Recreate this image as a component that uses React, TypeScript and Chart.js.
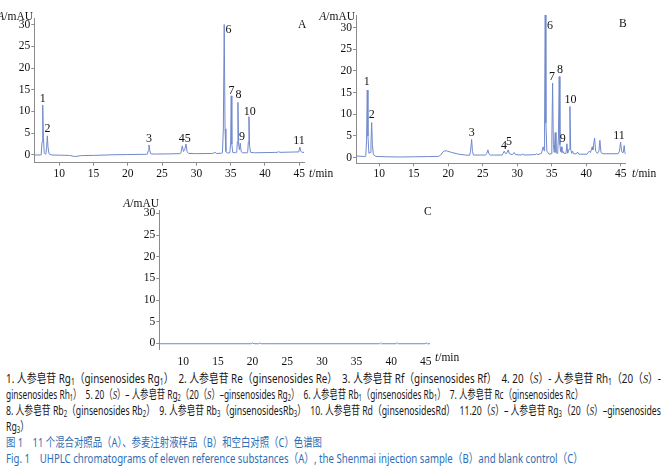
import React, { useEffect, useLayoutEffect, useRef } from 'react';
import { Chart, registerables } from 'chart.js';

Chart.register(...registerables);

// ---------- DATA ----------
const yTickValues = [0, 5, 10, 15, 20, 25, 30];
const xTickValues = [10, 15, 20, 25, 30, 35, 40, 45];

// Panel A: mixed reference substances
const timeA = [
  6.35, 7.3, 7.35, 7.48, 7.58, 7.68, 7.8, 7.95,
  8.05, 8.15, 8.25, 8.35, 8.5, 8.8,
  10, 11.5, 12.2, 12.6, 13.2, 15, 18, 20, 22.7,
  22.85, 22.98, 23.08, 23.2, 23.35, 24, 26, 27.6,
  27.75, 27.94, 28.12, 28.3, 28.48, 28.65, 28.85, 30, 32.4, 32.7, 32.95, 33.7,
  33.8, 33.93, 34.06, 34.18, 34.3, 34.5,
  34.88, 35.0, 35.08, 35.17, 35.3, 35.7,
  35.88, 35.98, 36.06, 36.16, 36.28, 36.4, 36.52, 36.7, 37.4,
  37.48, 37.58, 37.67, 37.77, 37.9, 38.5, 41.8, 42.0, 42.2, 44.85,
  44.97, 45.1, 45.23, 45.4, 45.7,
];
const absA = [
  0, 0, 0, 3.0, 11.5, 4.0, 0.5, 0.2,
  0.3, 1.8, 4.4, 1.8, 0.3, 0.0,
  -0.05, -0.1, -0.35, -0.3, -0.15, -0.1, 0.05, 0.1, 0.15,
  0.2, 1.0, 2.3, 1.0, 0.25, 0.2, 0.25, 0.3,
  0.5, 2.1, 0.8, 1.2, 2.5, 0.7, 0.35, 0.3, 0.35, 0.6, 0.35, 0.4,
  0.5, 6, 30, 6, 0.8, 0.45,
  0.5, 3, 13.6, 2.5, 0.6, 0.5,
  0.6, 3, 12.1, 2.5, 1.2, 2.7, 0.9, 0.5, 0.5,
  0.6, 3, 8.8, 2, 0.6, 0.5, 0.6, 0.75, 0.6, 0.7,
  1.0, 1.8, 0.9, 0.6, 0.6,
];
const peakLabelsA = ['1', '2', '3', '45', '6', '7', '8', '9', '10', '11'];
const peakLabelTimeA = [7.58, 8.28, 23.08, 28.3, 34.7, 35.12, 36.16, 36.66, 37.8, 44.98];
const peakLabelAbsA = [13.0, 5.9, 3.6, 3.7, 28.8, 14.7, 13.8, 4.2, 10.0, 3.3];

// Panel B: Shenmai injection sample
const timeB = [
  6.63, 7.5, 8.0,
  8.05, 8.16, 8.26, 8.36, 8.5,
  8.7, 8.8, 8.9, 9.0, 9.15, 9.5, 11, 13, 15, 17, 18.6,
  18.9, 19.2, 19.5, 19.9, 20.5, 21.5, 22.5, 23.1,
  23.22, 23.38, 23.5, 23.65, 25.4, 25.58, 25.74, 25.88, 26.1, 27.8,
  27.95, 28.1, 28.3, 28.5, 28.68, 28.85, 29.3, 29.55, 29.75, 30.6, 30.77, 30.92, 32.6, 32.8, 33.0, 33.5, 33.75, 33.88,
  33.95, 34.04, 34.14, 34.28, 34.6, 34.9,
  35.0, 35.11, 35.22, 35.35, 35.49, 35.6, 35.75, 35.85,
  35.96, 36.07, 36.17, 36.26, 36.36, 36.47, 36.6, 36.75, 37.05, 37.18, 37.3,
  37.5, 37.62, 37.73, 37.87, 38.0, 38.15, 38.55, 38.73, 38.9, 40.1, 40.41, 40.6, 40.85, 40.95, 41.19, 41.35, 41.6, 41.82, 41.96, 42.12, 42.4, 44.6,
  44.8, 44.96, 45.1, 45.2, 45.35, 45.48, 45.6, 45.7,
];
const absB = [
  0.4, 0.3, 0.3,
  0.5, 4, 15.6, 5, 1.0,
  1.2, 3.5, 8.1, 3, 0.7, 0.3, 0.2, 0.15, 0.2, 0.25, 0.3,
  0.6, 1.3, 1.6, 1.5, 1.2, 0.8, 0.6, 0.55,
  1.5, 4.2, 1.4, 0.6, 0.6, 1.0, 1.8, 0.9, 0.6, 0.6,
  1.0, 1.5, 0.9, 1.1, 1.8, 0.9, 0.7, 1.2, 0.7, 0.6, 0.9, 0.6, 0.7, 0.9, 0.7, 1.0, 2.5, 1.6,
  8, 36, 8, 1.5, 0.8, 0.9,
  4, 17.2, 3, 1.2, 5.8, 1.2, 1.0, 1.5,
  5, 18.7, 3, 1.4, 2.5, 1.2, 1.5, 1.0, 1.0, 3.2, 1.0,
  2, 11.8, 2.0, 1.0, 1.5, 0.9, 0.9, 1.3, 0.8, 0.8, 1.5, 1.2, 2.5, 1.8, 4.5, 1.5, 1.0, 1.5, 4.0, 1.2, 0.9, 0.9,
  1.5, 3.6, 1.6, 1.2, 1.2, 2.8, 1.0, 0.9,
];
const peakLabelsB = ['1', '2', '3', '4', '5', '6', '7', '8', '9', '10', '11'];
const peakLabelTimeB = [8.18, 8.9, 23.38, 28.08, 28.8, 34.72, 35.02, 36.17, 36.58, 37.7, 44.74];
const peakLabelAbsB = [17.5, 9.9, 5.8, 2.7, 3.6, 30.5, 18.7, 20.2, 4.4, 13.4, 5.0];

// Panel C: blank control
const timeC = [6.54, 19.8, 20.0, 20.2, 20.9, 21.05, 21.2, 38.3, 38.45, 38.6, 40.7, 40.85, 41.0, 44.9, 45.05, 45.2, 45.6];
const absC = [-0.1, -0.1, 0.1, -0.1, -0.1, 0.1, -0.1, -0.1, 0.1, -0.1, -0.1, 0.15, -0.1, -0.1, 0.1, -0.1, -0.1];
const peakLabelsC: string[] = [];
const peakLabelTimeC: number[] = [];
const peakLabelAbsC: number[] = [];

// ---------- STYLE ----------
const LINE = '#7189cc';
const AXIS = '#8c8c8c';
const TICK_TEXT = '#111';
const SERIF = '"Liberation Serif", "DejaVu Serif", serif';

const peakLabelPlugin = {
  id: 'peakLabels',
  afterDatasetsDraw(chart: any, _args: any, opts: any) {
    const { ctx, scales } = chart;
    const labels: string[] = opts.labels || [];
    ctx.save();
    ctx.font = `12px ${SERIF}`;
    ctx.fillStyle = '#111';
    ctx.textAlign = 'center';
    ctx.textBaseline = 'middle';
    labels.forEach((lab, i) => {
      const x = scales.x.getPixelForValue(opts.times[i]);
      const y = scales.y.getPixelForValue(opts.values[i]);
      ctx.fillText(lab, x, y);
    });
    ctx.restore();
  },
};

type Layout = {
  width: number; height: number; top: number; right: number; yw: number; xh: number;
  xmin: number; xmax: number; ymin: number; ymax: number; showXAxis: boolean;
};

function makeConfig(times: number[], values: number[], labels: string[], lt: number[], lv: number[], L: Layout): any {
  return {
    type: 'line',
    data: {
      datasets: [{
        data: times.map((t, i) => ({ x: t, y: values[i] })),
        borderColor: LINE,
        borderWidth: 1,
        pointRadius: 0,
        tension: 0,
        fill: false,
      }],
    },
    options: {
      animation: false,
      responsive: false,
      maintainAspectRatio: false,
      events: [],
      layout: { padding: { left: 0, top: L.top, right: L.right, bottom: 0 } },
      plugins: {
        legend: { display: false },
        tooltip: { enabled: false },
        peakLabels: { labels, times: lt, values: lv },
      },
      scales: {
        x: {
          type: 'linear',
          min: L.xmin,
          max: L.xmax,
          afterBuildTicks: (ax: any) => { ax.ticks = xTickValues.map((v) => ({ value: v })); },
          afterFit: (ax: any) => { ax.height = L.xh; },
          grid: { display: L.showXAxis, drawOnChartArea: false, tickLength: 3, color: AXIS },
          border: { display: L.showXAxis, color: AXIS, width: 1 },
          ticks: { font: { family: SERIF, size: 11.5 }, color: TICK_TEXT, padding: L.showXAxis ? 1 : 3, maxRotation: 0, autoSkip: false },
        },
        y: {
          type: 'linear',
          min: L.ymin,
          max: L.ymax,
          afterBuildTicks: (ax: any) => { ax.ticks = yTickValues.map((v) => ({ value: v })); },
          afterFit: (ax: any) => { ax.width = L.yw; },
          grid: { drawOnChartArea: false, tickLength: 3, color: AXIS },
          border: { color: AXIS, width: 1 },
          ticks: { font: { family: SERIF, size: 11.5 }, color: TICK_TEXT, padding: 1, autoSkip: false },
        },
      },
    },
    plugins: [peakLabelPlugin],
  };
}

function Chromatogram(props: {
  left: number; top: number; L: Layout; times: number[]; values: number[];
  labels: string[]; lt: number[]; lv: number[];
}) {
  const ref = useRef<HTMLCanvasElement | null>(null);
  const { L } = props;
  useEffect(() => {
    if (!ref.current) return;
    const chart = new Chart(ref.current, makeConfig(props.times, props.values, props.labels, props.lt, props.lv, L));
    return () => chart.destroy();
  }, []);
  return (
    <canvas
      ref={ref}
      width={L.width}
      height={L.height}
      style={{ position: 'absolute', left: props.left, top: props.top, width: L.width, height: L.height }}
    />
  );
}

const layoutA: Layout = { width: 345, height: 185, top: 18, right: 41, yw: 34.3, xh: 22.3, xmin: 6.35, xmax: 45.7, ymin: -1.78, ymax: 31.5, showXAxis: true };
const layoutB: Layout = { width: 335, height: 185, top: 15, right: 39.3, yw: 26, xh: 21.7, xmin: 6.63, xmax: 45.7, ymin: -1.3, ymax: 32.9, showXAxis: true };
const layoutC: Layout = { width: 345, height: 178, top: 20, right: 35, yw: 39.3, xh: 18.5, xmin: 6.54, xmax: 45.6, ymin: -1.43, ymax: 30.8, showXAxis: false };

const serifText: React.CSSProperties = {
  position: 'absolute', fontFamily: SERIF, fontSize: 11.5, lineHeight: '12px', color: '#111', whiteSpace: 'nowrap',
};

function YTitle({ right, y }: { right: number; y: number }) {
  return (
    <div style={{ ...serifText, right: 665 - right, top: y - 6 }}>
      <i>A</i>/mAU
    </div>
  );
}
function XTitle({ left, y }: { left: number; y: number }) {
  return (
    <div style={{ ...serifText, left, top: y - 6 }}>
      <i>t</i>/min
    </div>
  );
}
function PanelLetter({ x, y, text }: { x: number; y: number; text: string }) {
  return (
    <div style={{ ...serifText, left: x - 4, top: y - 6 }}>{text}</div>
  );
}

// ---------- CAPTION ----------
const CAP_FONT = '"Noto Sans", "Noto Sans CJK SC", sans-serif';
const captionTargets = [655, 577, 655, 0, 316, 577];
const captionTops = [379, 395, 411, 427, 443, 459];
const BLACK = '#1a1718';
const BLUE = '#2f6db3';

const Sub = ({ children }: { children: React.ReactNode }) => (
  <span style={{ fontSize: 8.5, verticalAlign: -2 }}>{children}</span>
);
const S = () => (
  <span style={{ fontFamily: SERIF, fontStyle: 'italic', fontSize: 13 }}>S</span>
);

function Caption() {
  const refs = useRef<(HTMLDivElement | null)[]>([]);
  useLayoutEffect(() => {
    const fit = () => {
      let last = 1;
      refs.current.forEach((el, i) => {
        if (!el) return;
        el.style.transform = 'none';
        const w = el.getBoundingClientRect().width;
        const tw = captionTargets[i];
        const k = tw && w > 0 ? tw / w : last;
        last = k;
        el.style.transform = `scaleX(${k})`;
      });
    };
    fit();
    const f: any = (document as any).fonts;
    if (f && f.ready) f.ready.then(fit);
  }, []);

  const lines: React.ReactNode[] = [
    <>1. 人参皂苷 Rg<Sub>1</Sub>（ginsenosides Rg<Sub>1</Sub>）　2. 人参皂苷 Re（ginsenosides Re）　3. 人参皂苷 Rf（ginsenosides Rf）　4. 20（<S />）- 人参皂苷 Rh<Sub>1</Sub>（20（<S />）-</>,
    <>ginsenosides Rh<Sub>1</Sub>）　5. 20（<S />）– 人参皂苷 Rg<Sub>2</Sub>（20（<S />）–ginsenosides Rg<Sub>2</Sub>）　6. 人参皂苷 Rb<Sub>1</Sub>（ginsenosides Rb<Sub>1</Sub>）　7. 人参皂苷 Rc（ginsenosides Rc）</>,
    <>8. 人参皂苷 Rb<Sub>2</Sub>（ginsenosides Rb<Sub>2</Sub>）　9. 人参皂苷 Rb<Sub>3</Sub>（ginsenosidesRb<Sub>3</Sub>）　10. 人参皂苷 Rd（ginsenosidesRd）　11.20（<S />）– 人参皂苷 Rg<Sub>3</Sub>（20（<S />）–ginsenosides</>,
    <>Rg<Sub>3</Sub>）</>,
    <>图 1　11 个混合对照品（A）、参麦注射液样品（B）和空白对照（C）色谱图</>,
    <>Fig. 1　UHPLC chromatograms of eleven reference substances（A）, the Shenmai injection sample（B）and blank control（C）</>,
  ];
  return (
    <>
      {lines.map((ln, i) => (
        <div
          key={i}
          ref={(el) => { refs.current[i] = el; }}
          style={{
            position: 'absolute', left: 6, top: captionTops[i] - 8, height: 16, lineHeight: '16px',
            fontFamily: CAP_FONT, fontSize: 12.5, whiteSpace: 'nowrap', transformOrigin: 'left center',
            color: i >= 4 ? BLUE : BLACK,
          }}
        >
          {ln}
        </div>
      ))}
    </>
  );
}

export default function App() {
  return (
    <div style={{ position: 'absolute', left: 0, top: 0, width: 665, height: 468, background: '#fff', overflow: 'hidden' }}>
      <Chromatogram left={0} top={0} L={layoutA} times={timeA} values={absA} labels={peakLabelsA} lt={peakLabelTimeA} lv={peakLabelAbsA} />
      <Chromatogram left={330} top={0} L={layoutB} times={timeB} values={absB} labels={peakLabelsB} lt={peakLabelTimeB} lv={peakLabelAbsB} />
      <Chromatogram left={120} top={190} L={layoutC} times={timeC} values={absC} labels={peakLabelsC} lt={peakLabelTimeC} lv={peakLabelAbsC} />
      <YTitle right={33} y={16} />
      <YTitle right={355} y={16} />
      <YTitle right={159} y={203} />
      <XTitle left={309} y={173} />
      <XTitle left={632} y={173} />
      <XTitle left={435} y={357} />
      <PanelLetter x={302} y={24} text="A" />
      <PanelLetter x={623} y={23} text="B" />
      <PanelLetter x={428} y={211} text="C" />
      <Caption />
    </div>
  );
}
